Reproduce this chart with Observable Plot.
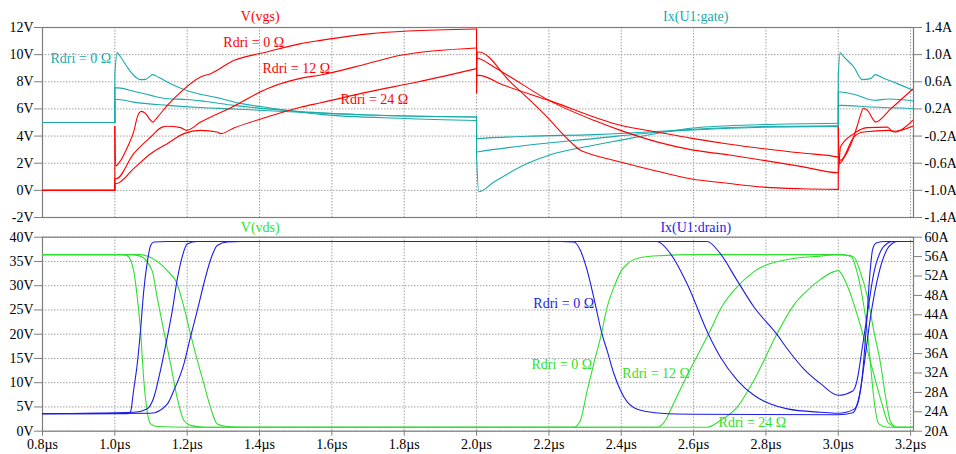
<!DOCTYPE html>
<html><head><meta charset="utf-8">
<script src="https://cdn.jsdelivr.net/npm/d3@7"></script>
<script src="https://cdn.jsdelivr.net/npm/@observablehq/plot@0.6"></script>
<style>
html,body{margin:0;padding:0;background:#fff;}
#chart{position:relative;width:956px;height:454px;overflow:hidden;background:#fff;}
#chart svg{position:absolute;left:0;overflow:visible;background:transparent;}
</style></head><body><div id="chart"></div>
<script>
// ---------- axes / ticks ----------
const timeDomain = [0.8, 3.208];
const xTicks = [0.8, 1.0, 1.2, 1.4, 1.6, 1.8, 2.0, 2.2, 2.4, 2.6, 2.8, 3.0, 3.2];
const xTickLabels = ["0.8µs","1.0µs","1.2µs","1.4µs","1.6µs","1.8µs","2.0µs","2.2µs","2.4µs","2.6µs","2.8µs","3.0µs","3.2µs"];

const vgsDomain = [-2, 12];
const vgsTicks = [12, 10, 8, 6, 4, 2, 0, -2];
const vgsTickLabels = ["12V","10V","8V","6V","4V","2V","0V","-2V"];
const gateDomain = [-1.4, 1.4];
const gateTicks = [1.4, 1.0, 0.6, 0.2, -0.2, -0.6, -1.0, -1.4];
const gateTickLabels = ["1.4A","1.0A","0.6A","0.2A","-0.2A","-0.6A","-1.0A","-1.4A"];

const vdsDomain = [0, 40];
const vdsTicks = [40, 35, 30, 25, 20, 15, 10, 5, 0];
const vdsTickLabels = ["40V","35V","30V","25V","20V","15V","10V","5V","0V"];
const drainDomain = [20, 60];
const drainTicks = [60, 56, 52, 48, 44, 40, 36, 32, 28, 24, 20];
const drainTickLabels = ["60A","56A","52A","48A","44A","40A","36A","32A","28A","24A","20A"];

const traceNames = ["V(vgs)", "Ix(U1:gate)", "V(vds)", "Ix(U1:drain)"];

// ---------- series: [time µs, value] ----------
// V(vgs), volts
const vgs0 = [[0.8,0],[1.0,0],[1.0,4.7],[1.002,1.8],[1.016,2.2],[1.035,3.2],[1.053,4.4],[1.062,5.4],[1.073,5.82],[1.085,5.65],[1.099,5.16],[1.105,5.03],[1.118,5.4],[1.145,6.26],[1.182,7.24],[1.237,8.35],[1.265,8.6],[1.33,9.58],[1.42,10.19],[1.514,10.81],[1.569,11.05],[1.708,11.55],[1.81,11.74],[2.0,11.89],[2.0,7.2],[2.002,10.2],[2.006,10.2],[2.094,7.98],[2.186,5.65],[2.26,3.57],[2.287,2.95],[2.306,2.75],[2.398,2.09],[2.509,1.35],[2.592,0.86],[2.7,0.5],[2.794,0.24],[2.9,0.12],[3.0,0.07],[3.0,4.66],[3.003,1.97],[3.016,2.4],[3.035,3.4],[3.053,4.8],[3.062,5.6],[3.07,6.05],[3.082,5.85],[3.097,5.2],[3.103,5.03],[3.145,6.0],[3.18,6.84],[3.208,7.5]];
const vgs12 = [[0.8,0],[1.0,0],[1.0,0.86],[1.004,0.86],[1.052,2.7],[1.099,3.93],[1.131,4.66],[1.145,4.72],[1.182,4.62],[1.198,4.42],[1.237,5.03],[1.329,6.2],[1.421,7.49],[1.513,8.25],[1.569,8.5],[1.698,9.33],[1.79,9.95],[2.0,10.49],[2.0,9.75],[2.006,9.72],[2.048,9.09],[2.094,8.35],[2.2,6.63],[2.324,5.16],[2.398,4.42],[2.509,3.5],[2.592,3.0],[2.7,2.6],[2.794,2.21],[2.9,1.75],[3.0,1.3],[3.006,3.19],[3.043,4.18],[3.08,4.62],[3.135,4.66],[3.154,4.3],[3.208,5.2]];
const vgs24 = [[0.8,0],[1.0,0],[1.0,0.5],[1.004,0.5],[1.052,1.6],[1.099,2.7],[1.145,3.44],[1.191,4.18],[1.237,4.42],[1.283,4.3],[1.292,4.18],[1.329,4.6],[1.421,5.4],[1.513,6.12],[1.569,6.45],[1.698,7.24],[1.836,7.98],[2.0,8.97],[2.0,8.47],[2.006,8.47],[2.076,7.74],[2.2,6.63],[2.398,4.8],[2.509,4.25],[2.592,3.85],[2.7,3.4],[2.794,3.07],[2.9,2.75],[3.0,2.45],[3.006,2.21],[3.043,3.93],[3.07,4.3],[3.14,4.42],[3.154,4.35],[3.208,4.75]];
// Ix(U1:gate), amperes
const gate0 = [[0.8,0],[1.0,0],[1.0,0.7],[1.006,1.03],[1.016,0.965],[1.034,0.818],[1.052,0.696],[1.071,0.632],[1.085,0.635],[1.099,0.69],[1.105,0.706],[1.122,0.662],[1.163,0.548],[1.205,0.46],[1.237,0.416],[1.283,0.367],[1.329,0.302],[1.421,0.22],[1.513,0.155],[1.569,0.12],[1.8,0.06],[2.0,0.03],[2.0,-0.5],[2.006,-1.02],[2.048,-0.877],[2.14,-0.606],[2.2,-0.483],[2.324,-0.336],[2.398,-0.26],[2.509,-0.15],[2.6,-0.08],[2.794,-0.03],[3.0,-0.01],[3.0,0.7],[3.005,1.03],[3.015,0.97],[3.043,0.818],[3.066,0.632],[3.089,0.647],[3.103,0.706],[3.121,0.662],[3.163,0.573],[3.208,0.474]];
const gate12 = [[0.8,0],[1.0,0],[1.0,0.51],[1.01,0.51],[1.052,0.46],[1.099,0.40],[1.145,0.35],[1.2,0.34],[1.25,0.31],[1.329,0.253],[1.513,0.16],[1.7,0.11],[2.0,0.08],[2.0,-0.435],[2.006,-0.43],[2.14,-0.336],[2.324,-0.237],[2.509,-0.14],[2.6,-0.11],[2.794,-0.07],[3.0,-0.06],[3.0,0.45],[3.006,0.449],[3.043,0.416],[3.1,0.327],[3.14,0.346],[3.208,0.317]];
const gate24 = [[0.8,0],[1.0,0],[1.0,0.34],[1.01,0.34],[1.052,0.30],[1.145,0.253],[1.237,0.22],[1.329,0.2],[1.513,0.15],[1.7,0.11],[2.0,0.08],[2.0,-0.24],[2.006,-0.237],[2.14,-0.203],[2.324,-0.178],[2.509,-0.13],[2.6,-0.1],[2.794,-0.06],[3.0,-0.05],[3.0,0.25],[3.006,0.253],[3.09,0.228],[3.208,0.205]];
// V(vds), volts
const vds0 = [[0.8,36.4],[1.02,36.4],[1.034,36.2],[1.052,33.1],[1.062,27.6],[1.071,20.8],[1.08,10.5],[1.089,4.3],[1.099,1.5],[1.117,0.97],[1.2,0.82],[2.269,0.82],[2.287,2.2],[2.306,8.4],[2.324,13.9],[2.345,20.0],[2.361,25.6],[2.38,29.7],[2.398,32.8],[2.417,34.5],[2.454,35.8],[2.51,36.2],[2.6,36.4],[3.0,36.4],[3.034,36.2],[3.052,32.8],[3.066,27.9],[3.08,20.8],[3.089,13.9],[3.098,7.0],[3.112,1.5],[3.135,0.82],[3.208,0.82]];
const vds12 = [[0.8,36.4],[1.04,36.4],[1.07,36.1],[1.103,33.1],[1.117,27.6],[1.135,20.8],[1.154,13.9],[1.172,7.0],[1.191,2.2],[1.209,1.2],[1.25,0.82],[2.499,0.82],[2.522,2.2],[2.542,5.3],[2.582,11.5],[2.641,20.0],[2.68,25.9],[2.716,29.4],[2.767,32.9],[2.859,35.4],[2.951,36.1],[3.0,36.4],[3.043,35.9],[3.061,32.8],[3.08,27.9],[3.098,20.8],[3.117,13.9],[3.131,7.0],[3.145,1.85],[3.163,0.82],[3.208,0.82]];
const vds24 = [[0.8,36.4],[1.07,36.4],[1.099,35.8],[1.145,33.1],[1.172,30.4],[1.191,25.6],[1.209,20.1],[1.228,14.6],[1.246,9.8],[1.264,5.0],[1.283,1.5],[1.311,0.97],[1.35,0.82],[2.637,0.82],[2.674,2.2],[2.72,4.9],[2.767,10.5],[2.83,20.0],[2.877,26.0],[2.914,29.0],[2.951,31.3],[2.988,32.9],[3.0,33.1],[3.019,31.0],[3.037,27.6],[3.06,22.1],[3.078,17.3],[3.098,11.8],[3.121,5.6],[3.139,1.65],[3.163,0.82],[3.208,0.82]];
// Ix(U1:drain), amperes
const drain0 = [[0.8,23.6],[1.034,23.6],[1.043,23.9],[1.052,28.5],[1.062,33.9],[1.071,40.8],[1.08,49.0],[1.089,54.5],[1.099,58.3],[1.108,59.0],[1.145,59.1],[2.232,59.1],[2.269,59.0],[2.287,57.3],[2.306,53.1],[2.324,47.6],[2.347,40.0],[2.361,36.6],[2.38,31.8],[2.398,28.4],[2.417,26.0],[2.454,24.3],[2.51,23.7],[2.6,23.5],[3.0,23.4],[3.04,23.8],[3.05,25.0],[3.066,31.0],[3.078,42.0],[3.087,52.0],[3.095,57.5],[3.105,58.8],[3.13,59.1],[3.208,59.1]];
const drain12 = [[0.8,23.6],[1.052,23.9],[1.089,24.6],[1.108,27.0],[1.126,32.5],[1.145,39.4],[1.159,44.9],[1.172,51.1],[1.186,55.9],[1.2,58.6],[1.228,59.1],[2.499,59.1],[2.536,56.6],[2.582,50.4],[2.641,40.0],[2.674,35.3],[2.721,30.5],[2.767,27.4],[2.813,25.6],[2.859,24.6],[2.951,23.9],[3.0,23.7],[3.043,24.5],[3.055,26.0],[3.071,33.5],[3.089,43.5],[3.112,52.5],[3.135,57.5],[3.149,58.7],[3.163,59.1],[3.208,59.1]];
const drain24 = [[0.8,23.6],[1.099,23.7],[1.145,25.6],[1.163,28.4],[1.191,33.9],[1.209,39.4],[1.228,44.9],[1.246,50.4],[1.264,55.2],[1.283,58.3],[1.311,59.0],[1.35,59.1],[2.637,59.1],[2.674,56.6],[2.72,51.1],[2.767,45.6],[2.83,40.0],[2.859,37.0],[2.905,32.8],[2.951,29.8],[3.0,27.4],[3.04,28.3],[3.052,30.5],[3.066,37.0],[3.08,44.0],[3.098,52.5],[3.12,57.5],[3.135,58.7],[3.15,59.1],[3.208,59.1]];

// ---------- annotations (time µs, left-axis value) ----------
const topNotes = [
  {series:"vgs", t:1.300, v:10.93, text:"Rdri = 0 Ω"},
  {series:"vgs", t:1.408, v:8.99, text:"Rdri = 12 Ω"},
  {series:"vgs", t:1.624, v:6.71, text:"Rdri = 24 Ω"},
  {series:"gate", t:0.822, v:9.73, text:"Rdri = 0 Ω"}
];
const bottomNotes = [
  {series:"drain", t:2.157, v:26.33, text:"Rdri = 0 Ω"},
  {series:"vds", t:2.152, v:13.75, text:"Rdri = 0 Ω"},
  {series:"vds", t:2.403, v:11.96, text:"Rdri = 12 Ω"},
  {series:"vds", t:2.669, v:1.86, text:"Rdri = 24 Ω"}
];

// ---------- styling ----------
const colors = {vgs:"#ff0000", gate:"#19abab", vds:"#2ee02e", drain:"#1c1ce6"};
const frameColor = "#7d7d7d";
const gridColor = "#a0a0a0";
const font = "'Liberation Serif','Times New Roman','DejaVu Serif',serif";
const W = 956, mL = 42, mR = 43;

const mapDomain = (from, to) => a => to[0] + (a - from[0]) / (from[1] - from[0]) * (to[1] - to[0]);
const gateToV = mapDomain(gateDomain, vgsDomain);
const drainToV = mapDomain(drainDomain, vdsDomain);
// split each trace into monotone-in-time pieces; vertical jumps become their own 2-point pieces
function rows(list, conv) {
  const out = [];
  let seg = 0;
  list.forEach(s => {
    let cur = [s[0]];
    const flush = pts => { pts.forEach(([t, v]) => out.push({t, v: conv(v), id: seg})); seg++; };
    for (let i = 1; i < s.length; i++) {
      const p = s[i], q = s[i - 1];
      if (p[0] === q[0]) {
        if (cur.length > 1) flush(cur);
        flush([q, p]);
        cur = [p];
      } else cur.push(p);
    }
    if (cur.length > 1) flush(cur);
  });
  return out;
}
const near = (arr, labels) => d => { const i = arr.findIndex(a => Math.abs(a - d) < 1e-6); return i < 0 ? "" : labels[i]; };
const quarter = f => timeDomain[0] + f * (timeDomain[1] - timeDomain[0]);

function panel({height, mTop, mBottom, yDomain, leftTicks, leftLabels, rightPos, rightLabels, series, notes, names, showX}) {
  const marks = [
    Plot.gridX(xTicks, {stroke: gridColor, strokeOpacity: 1, strokeDasharray: "1.5,1.5"}),
    Plot.gridY(leftTicks, {stroke: gridColor, strokeOpacity: 1, strokeDasharray: "1.5,1.5"}),
    Plot.frame({stroke: frameColor, strokeWidth: 1.2}),
    Plot.axisY(leftTicks, {anchor: "left", tickSize: 8, tickPadding: 1, stroke: frameColor, fill: "black", tickFormat: near(leftTicks, leftLabels), label: null}),
    Plot.axisY(rightPos, {anchor: "right", tickSize: 8, tickPadding: 3, stroke: frameColor, fill: "black", tickFormat: near(rightPos, rightLabels), label: null})
  ];
  if (showX) marks.push(Plot.axisX(xTicks, {anchor: "bottom", tickSize: 5, tickPadding: 3, stroke: frameColor, fill: "black", tickFormat: near(xTicks, xTickLabels), label: null}));
  for (const s of series) {
    marks.push(Plot.line(s.data, {x: "t", y: "v", z: "id", stroke: s.color, strokeWidth: 1.1, curve: "monotone-x", clip: true}));
  }
  for (const n of notes) {
    marks.push(Plot.text([n], {x: "t", y: "v", text: "text", fill: colors[n.series], textAnchor: "start", lineAnchor: "middle", fontSize: 14}));
  }
  names.forEach((nm, i) => {
    marks.push(Plot.text([{t: quarter(i === 0 ? 0.25 : 0.75), text: nm.text}], {x: "t", text: "text", frameAnchor: "top", dy: nm.dy, lineAnchor: "middle", fill: nm.color, fontSize: 14}));
  });
  return Plot.plot({
    width: W, height,
    marginLeft: mL, marginRight: mR, marginTop: mTop, marginBottom: mBottom,
    x: {domain: timeDomain, axis: null, label: null},
    y: {domain: yDomain, label: null},
    style: {fontFamily: font, fontSize: "14px", color: "black", background: "transparent", overflow: "visible"},
    marks
  });
}

const topSvg = panel({
  height: 220, mTop: 27, mBottom: 3, yDomain: vgsDomain,
  leftTicks: vgsTicks, leftLabels: vgsTickLabels,
  rightPos: gateTicks.map(gateToV), rightLabels: gateTickLabels,
  series: [
    {data: rows([gate0, gate12, gate24], gateToV), color: colors.gate},
    {data: rows([vgs0, vgs12, vgs24], v => v), color: colors.vgs}
  ],
  notes: topNotes,
  names: [{text: traceNames[0], color: colors.vgs, dy: -10.5}, {text: traceNames[1], color: colors.gate, dy: -10.5}],
  showX: false
});
const bottomSvg = panel({
  height: 234, mTop: 16.7, mBottom: 23.3, yDomain: vdsDomain,
  leftTicks: vdsTicks, leftLabels: vdsTickLabels,
  rightPos: drainTicks.map(drainToV), rightLabels: drainTickLabels,
  series: [
    {data: rows([vds0, vds12, vds24], v => v), color: colors.vds},
    {data: rows([drain0, drain12, drain24], drainToV), color: colors.drain}
  ],
  notes: bottomNotes,
  names: [{text: traceNames[2], color: colors.vds, dy: -9.7}, {text: traceNames[3], color: colors.drain, dy: -9.7}],
  showX: true
});
topSvg.style.top = "0px";
bottomSvg.style.top = "220px";
const chart = document.getElementById("chart");
chart.appendChild(topSvg);
chart.appendChild(bottomSvg);
</script></body></html>
